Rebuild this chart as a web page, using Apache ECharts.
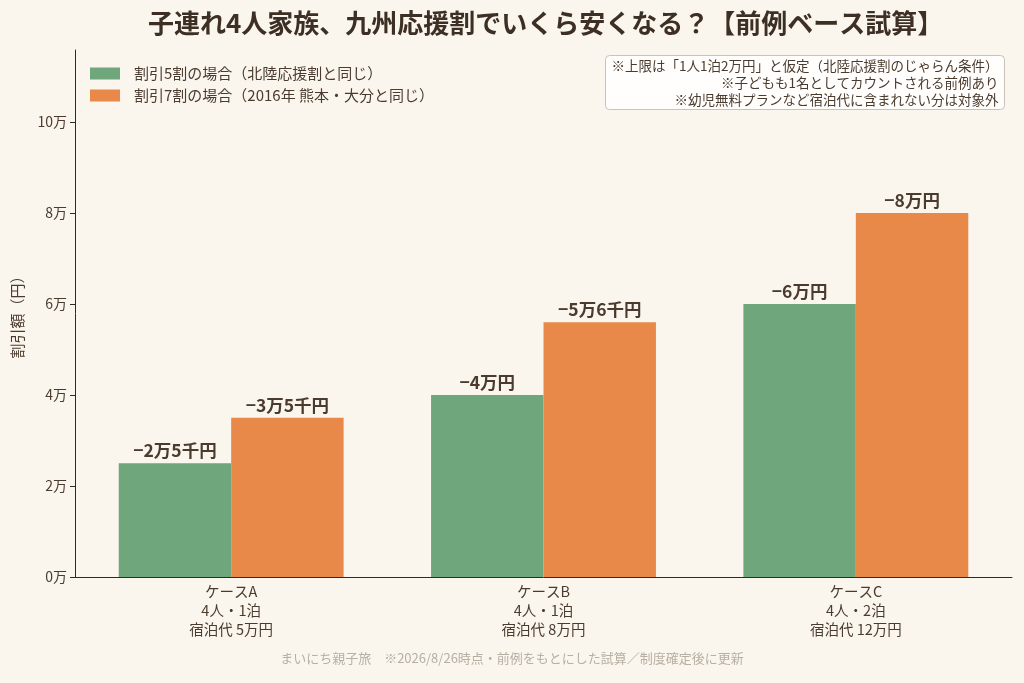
<!DOCTYPE html>
<html>
<head>
<meta charset="UTF-8">
<title>九州応援割 試算</title>
<script src="https://cdn.jsdelivr.net/npm/echarts@6/dist/echarts.min.js"></script>
<style>
  html, body { margin: 0; padding: 0; background: #faf6ee; }
  #main { width: 1024px; height: 683px; }
</style>
</head>
<body>
<div id="main"></div>
<script type="text/javascript">
// データ
var cases = ['ケースA\n4人・1泊\n宿泊代 5万円', 'ケースB\n4人・1泊\n宿泊代 8万円', 'ケースC\n4人・2泊\n宿泊代 12万円'];
var off50 = [25000, 40000, 60000];
var off70 = [35000, 56000, 80000];
var yTicks = [0, 20000, 40000, 60000, 80000, 100000];
var seriesNames = ['割引5割の場合（北陸応援割と同じ）', '割引7割の場合（2016年 熊本・大分と同じ）'];
var notes = [
  '※上限は「1人1泊2万円」と仮定（北陸応援割のじゃらん条件）',
  '※子どもも1名としてカウントされる前例あり',
  '※幼児無料プランなど宿泊代に含まれない分は対象外'
];

var FONT = '"Noto Sans CJK JP", "Noto Sans", sans-serif';
var ink = '#4a3b2e';

// 2万5千円 みたいな表記にする
function yen(v) {
  var man = Math.floor(v / 10000);
  var sen = Math.round((v % 10000) / 1000);
  return '\u2212' + man + '万' + (sen ? sen + '千' : '') + '円';
}

// 注記ボックス（右寄せ3行）
var boxW = 399, boxH = 54;
var noteChildren = [{
  type: 'rect',
  shape: { x: 0, y: 0, width: boxW, height: boxH, r: 4 },
  style: { fill: 'rgba(255,255,255,0.85)', stroke: '#c9c2b8', lineWidth: 1 }
}];
notes.forEach(function (t, i) {
  noteChildren.push({
    type: 'text',
    x: boxW - 6,
    y: 10 + i * 17,
    style: {
      text: t, font: '13.5px ' + FONT, fill: ink,
      textAlign: 'right', textVerticalAlign: 'middle'
    }
  });
});

var myChart = echarts.init(document.getElementById('main'));

var option = {
  backgroundColor: '#faf6ee',
  textStyle: { fontFamily: FONT },
  title: {
    text: '子連れ4人家族、九州応援割でいくら安くなる？【前例ベース試算】',
    left: 143,
    top: 5,
    textStyle: { fontFamily: FONT, fontSize: 26, fontWeight: 'bold', color: '#3d2f24' }
  },
  legend: {
    orient: 'vertical',
    left: 85,
    top: 61,
    itemWidth: 30,
    itemHeight: 12,
    itemGap: 7,
    icon: 'rect',
    textStyle: { fontFamily: FONT, fontSize: 15, color: ink, padding: [0, 0, 0, 9] },
    data: seriesNames
  },
  grid: { left: 75, right: 12, top: 50, bottom: 106 },
  xAxis: {
    type: 'category',
    data: cases,
    axisLine: { lineStyle: { color: '#2b2b2b', width: 1 } },
    axisTick: { alignWithLabel: true, length: 5, lineStyle: { color: '#2b2b2b' } },
    axisLabel: { fontFamily: FONT, fontSize: 14.5, color: ink, lineHeight: 19, margin: 5 }
  },
  yAxis: {
    type: 'value',
    min: 0,
    max: 115800,
    name: '割引額（円）',
    nameLocation: 'middle',
    nameGap: 50,
    nameTextStyle: { fontFamily: FONT, fontSize: 15, color: ink },
    splitLine: { show: false },
    axisLine: { show: true, lineStyle: { color: '#2b2b2b', width: 1 } },
    axisTick: { show: true, length: 5, customValues: yTicks, lineStyle: { color: '#2b2b2b' } },
    axisLabel: {
      fontFamily: FONT, fontSize: 14, color: ink, margin: 8,
      customValues: yTicks,
      formatter: function (v) { return (v / 10000) + '万'; }
    }
  },
  series: [
    {
      name: seriesNames[0],
      type: 'bar',
      data: off50,
      barWidth: '36%',
      barGap: '0%',
      itemStyle: { color: '#6fa67b' },
      label: {
        show: true, position: 'top', distance: 4,
        fontFamily: FONT, fontSize: 17.5, fontWeight: 'bold', color: ink,
        formatter: function (p) { return yen(p.value); }
      }
    },
    {
      name: seriesNames[1],
      type: 'bar',
      data: off70,
      barWidth: '36%',
      itemStyle: { color: '#e8894a' },
      label: {
        show: true, position: 'top', distance: 4,
        fontFamily: FONT, fontSize: 17.5, fontWeight: 'bold', color: ink,
        formatter: function (p) { return yen(p.value); }
      }
    }
  ],
  graphic: [
    {
      type: 'group',
      right: 19,
      top: 55,
      children: noteChildren
    },
    {
      type: 'text',
      left: 'center',
      top: 652,
      style: {
        text: 'まいにち親子旅　※2026/8/26時点・前例をもとにした試算／制度確定後に更新',
        font: '13px ' + FONT,
        fill: '#b8afa3'
      }
    }
  ]
};

myChart.setOption(option);
</script>
</body>
</html>
